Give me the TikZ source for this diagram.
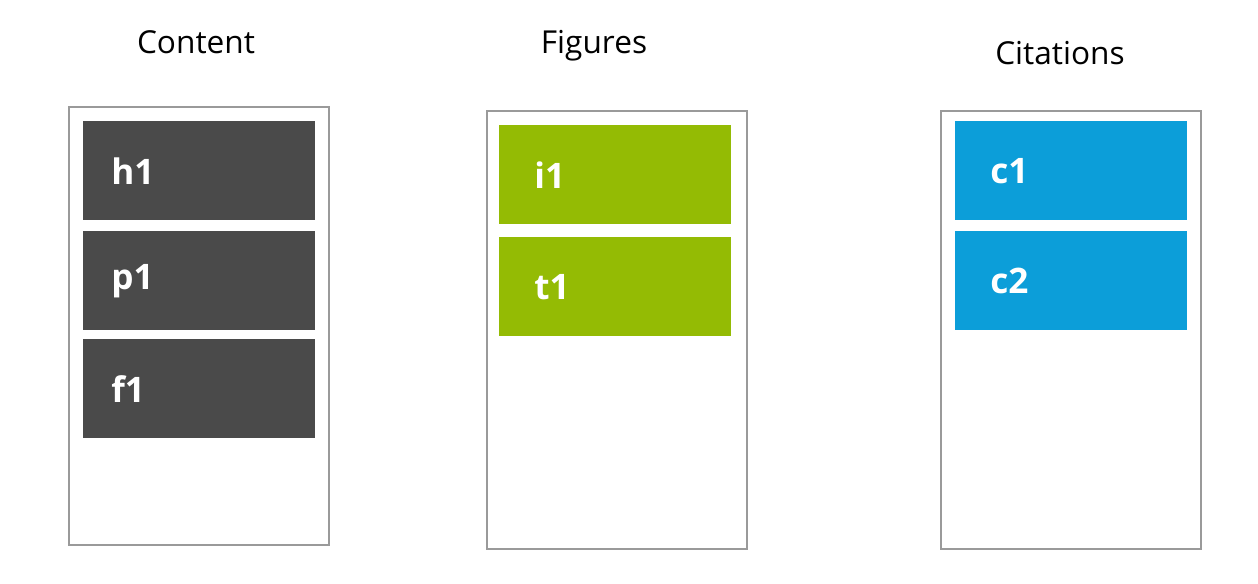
\documentclass[tikz,border=0pt]{standalone}
\usepackage{fontspec}
\setmainfont{Open Sans}
\definecolor{contentgray}{HTML}{4A4A4A}
\definecolor{figgreen}{HTML}{94BB04}
\definecolor{citeblue}{HTML}{0C9ED9}
\definecolor{framegray}{HTML}{9A9A9A}
\tikzset{
  frame/.style={draw=framegray,line width=1.2pt,anchor=north west,inner sep=0pt,
    minimum width=5.2cm,minimum height=8.76cm},
  item/.style={anchor=north west,inner xsep=0.56cm,inner ysep=0pt,text width=3.52cm,
    minimum height=1.98cm,align=left,text=white,font=\fontsize{20}{20}\selectfont\bfseries},
  wideitem/.style={item,inner xsep=0.7cm,text width=3.24cm},
  title/.style={font=\fontsize{18}{18}\selectfont}
}
\begin{document}
\begin{tikzpicture}[x=0.02cm,y=-0.02cm]
 \useasboundingbox (0,0) rectangle (1258,584);
 % column titles
 \node [title] (contenttitle) at (196,42) {Content};
 \node [title] (figurestitle) at (594,46) {Figures};
 \node [title] (citationstitle) at (1060,53) {Citations};
 % frames
 \node [frame] (contentframe) at (68,106) {};
 \node [frame] (figuresframe) at (486,110) {};
 \node [frame] (citationsframe) at (940,110) {};
 % content
 \node [item,fill=contentgray] (h1) at (83,121) {h1};
 \node [item,fill=contentgray] (p1) at (83,231) {p1};
 \node [item,fill=contentgray] (f1) at (83,339) {f1};
 % figures
 \node [wideitem,fill=figgreen] (i1) at (499,125) {i1};
 \node [wideitem,fill=figgreen] (t1) at (499,237) {t1};
 % citations
 \node [wideitem,fill=citeblue] (c1) at (955,121) {c1};
 \node [wideitem,fill=citeblue] (c2) at (955,231) {c2};
\end{tikzpicture}
\end{document}
